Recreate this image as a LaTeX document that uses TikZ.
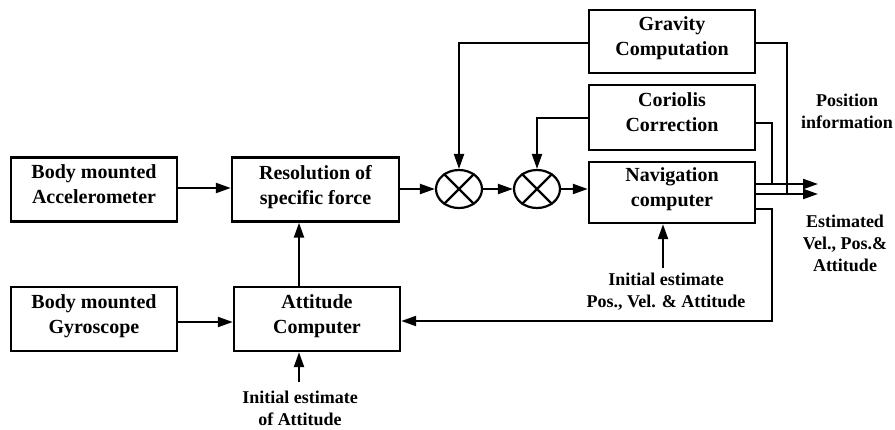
\documentclass[tikz,border=0pt]{standalone}
\usepackage{fontspec}
\setmainfont{Liberation Serif}
\usetikzlibrary{arrows.meta,shapes.geometric}
\begin{document}
\begin{tikzpicture}[x=1pt,y=-1pt,
 box/.style={draw, line width=2.4pt, minimum width=166pt, minimum height=64pt, inner sep=0pt, align=center, font=\bfseries\fontsize{20}{25}\selectfont, execute at end node={\rule[-10pt]{0pt}{0pt}}},
 lbl/.style={align=center, inner sep=0pt, font=\bfseries\fontsize{18}{22}\selectfont},
 mix/.style={draw, ellipse, line width=2.2pt, minimum width=46pt, minimum height=38pt, inner sep=0pt},
 arr/.style={line width=2.2pt, -{Triangle[length=15pt,width=10pt]}},
 ln/.style={line width=2.2pt}]
\useasboundingbox (0,0) rectangle (895,429);
% boxes
\node[box] (acc) at (94,189.5) {Body mounted\\Accelerometer};
\node[box, minimum width=167pt] (res) at (315.5,189.5) {Resolution of\\specific force};
\node[box] (gyro) at (94,319) {Body mounted\\Gyroscope};
\node[box] (att) at (317,319) {Attitude\\Computer};
\node[box, minimum height=63pt] (grav) at (672,41.5) {Gravity\\Computation};
\node[box, minimum height=65pt] (cor) at (672,117.5) {Coriolis\\Correction};
\node[box, minimum height=61pt] (nav) at (672,192.5) {Navigation\\computer};
% mixers
\node[mix] (c1) at (459,189) {};
\node[mix] (c2) at (537,189) {};
\draw[ln] (c1.45) -- (c1.225) (c1.135) -- (c1.315);
\draw[ln] (c2.45) -- (c2.225) (c2.135) -- (c2.315);
% labels
\node[lbl] (pinfo) at (847,111) {Position\\information};
\node[lbl] (est) at (845,243.5) {Estimated\\Vel., Pos.\&\\Attitude};
\node[lbl] (ininav) at (666,291.5) {Initial estimate\\Pos., Vel. \& Attitude};
\node[lbl] (iniatt) at (300,408.5) {Initial estimate\\of Attitude};
% coordinates
\coordinate (gv) at (787,194);
\coordinate (cv) at (772,184);
\coordinate (fb) at (772,321);
\coordinate (tip1) at (818,184);
\coordinate (tip2) at (818,194);
\coordinate (ax) at (299,0);
% connectors
\draw[arr] (acc.east |- 0,188) -- (res.west |- 0,188);
\draw[arr] (gyro.east |- 0,322) -- (att.west |- 0,322);
\draw[arr] (att.north -| ax) -- (res.south -| ax);
\draw[arr] (ax |- 0,382) -- (att.south -| ax);
\draw[arr] (663,268) -- (nav.south -| 663,0);
\draw[arr] (res.east |- c1.west) -- (c1.west);
\draw[arr] (c1.east) -- (c2.west);
\draw[arr] (c2.east) -- (nav.west |- c2.east);
\draw[arr] (grav.west |- 0,43) -| (c1.north);
\draw[arr] (cor.west |- 0,118) -| (c2.north);
\draw[ln] (grav.east |- 0,43) -| (gv);
\draw[ln] (cor.east |- 0,123) -| (cv);
\draw[arr] (nav.east |- tip1) -- (tip1);
\draw[arr] (nav.east |- tip2) -- (tip2);
\draw[arr] (nav.east |- 0,209) -| (fb) -- (fb -| att.east);
\end{tikzpicture}
\end{document}
